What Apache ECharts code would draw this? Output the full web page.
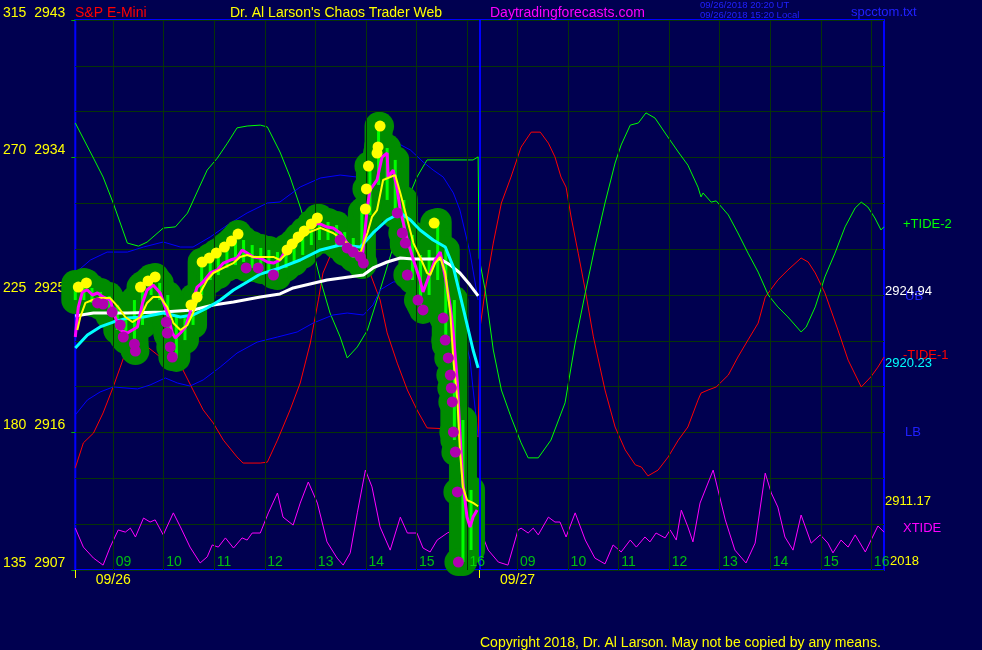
<!DOCTYPE html>
<html>
<head>
<meta charset="utf-8">
<script src="https://cdn.jsdelivr.net/npm/echarts@6.0.0/dist/echarts.min.js"></script>
<style>html,body{margin:0;padding:0;background:#000050;}#c{width:982px;height:650px;}</style>
</head>
<body>
<div id="c"></div>
<script>
// ---- axis / tick data ----
const leftTicks = [135, 180, 225, 270, 315];
const priceTicks = [2907, 2916, 2925, 2934, 2943];
const hourTicks = [9, 10, 11, 12, 13, 14, 15, 16, 17, 18, 19, 20, 21, 22, 23, 24];
const hourLabels = ['09','10','11','12','13','14','15','16','09','10','11','12','13','14','15','16'];
const dayStarts = [8.25, 16.25];
const dayLabelAt = [9, 17];
const dayLabels = ['09/26', '09/27'];

// ---- tide series (left scale) ----
const tide2 = [[8.25,281.3],[8.61,269.8],[8.80,263.6],[9.00,255.1],[9.28,242.0],[9.50,241.0],[9.67,242.3],[9.99,246.9],[10.23,247.3],[10.47,251.8],[10.66,258.7],[10.86,265.9],[11.06,269.8],[11.26,274.7],[11.45,279.7],[11.65,280.3],[11.91,280.6],[12.05,280.0],[12.30,271.8],[12.50,263.6],[12.70,253.8],[12.90,243.0],[13.10,229.9],[13.29,219.1],[13.49,211.3],[13.63,204.4],[13.83,208.0],[14.03,213.5],[14.22,223.4],[14.42,234.2],[14.62,245.3],[14.82,256.1],[15.01,263.6],[15.21,269.2],[16.12,269.2],[16.22,270.2],[16.24,237.1],[16.36,226.6],[16.52,207.0],[16.68,193.9],[16.87,185.1],[17.07,176.6],[17.21,171.7],[17.41,171.7],[17.66,177.5],[17.94,189.7],[18.14,209.3],[18.34,225.7],[18.53,240.7],[18.73,255.1],[18.93,268.2],[19.05,274.1],[19.23,280.6],[19.39,281.3],[19.54,284.6],[19.72,282.9],[19.92,278.0],[20.18,271.8],[20.37,267.5],[20.57,260.3],[20.63,257.1],[20.67,258.4],[20.83,255.4],[20.93,255.8],[21.17,251.2],[21.36,245.3],[21.56,238.7],[21.76,232.5],[21.96,225.0],[22.15,221.1],[22.35,217.8],[22.61,212.9],[22.71,214.5],[22.89,221.1],[23.08,230.9],[23.28,238.7],[23.48,247.3],[23.68,253.5],[23.80,255.4],[23.93,253.8],[24.07,250.2],[24.19,246.3],[24.25,247.3]];
const tide1 = [[8.25,168.4],[8.41,176.6],[8.61,179.8],[8.80,186.4],[9.00,194.9],[9.14,201.4],[9.28,208.0],[9.48,209.3],[9.58,209.3],[9.93,204.7],[10.33,202.1],[10.58,193.9],[10.78,187.4],[10.98,183.1],[11.18,177.5],[11.45,172.0],[11.57,170.0],[11.91,170.0],[12.05,170.3],[12.25,177.5],[12.50,187.4],[12.70,196.2],[12.90,209.3],[13.06,223.4],[13.15,232.2],[13.43,243.0],[13.65,245.6],[13.83,242.0],[14.08,232.2],[14.28,223.4],[14.42,212.6],[14.62,202.7],[14.82,193.9],[15.01,187.4],[15.21,181.5],[16.12,180.8],[16.22,178.5],[16.24,196.2],[16.26,214.5],[16.36,226.6],[16.52,242.0],[16.68,255.1],[16.87,263.6],[17.07,273.4],[17.27,278.3],[17.45,278.3],[17.61,274.7],[17.74,270.2],[17.86,263.6],[17.96,260.3],[18.06,250.5],[18.20,238.7],[18.34,226.6],[18.50,211.3],[18.73,193.9],[18.93,181.8],[19.13,174.3],[19.33,169.4],[19.45,168.7],[19.58,165.8],[19.78,167.7],[19.98,172.0],[20.18,177.5],[20.37,181.8],[20.57,190.6],[20.63,192.9],[20.77,193.9],[20.93,194.9],[21.17,198.8],[21.36,204.7],[21.56,210.3],[21.76,215.8],[21.90,224.3],[22.15,229.9],[22.35,233.2],[22.61,237.1],[22.75,235.8],[22.89,232.2],[23.08,225.7],[23.34,213.5],[23.54,203.7],[23.80,194.9],[23.99,198.2],[24.13,201.4],[24.25,204.7]];
const xtide = [[8.25,148.7],[8.41,142.5],[8.61,138.9],[8.80,136.6],[8.94,142.5],[9.10,148.1],[9.24,147.4],[9.34,148.7],[9.44,145.8],[9.60,152.0],[9.73,150.7],[9.83,151.4],[9.99,146.5],[10.19,153.7],[10.33,149.1],[10.52,142.5],[10.72,137.3],[10.86,139.3],[10.96,143.2],[11.08,142.5],[11.22,145.5],[11.38,142.2],[11.55,145.5],[11.65,144.8],[11.75,147.1],[11.91,147.1],[12.07,153.7],[12.25,160.2],[12.36,152.3],[12.56,149.7],[12.70,156.9],[12.86,163.8],[13.04,156.9],[13.23,144.2],[13.43,138.9],[13.55,136.6],[13.69,140.6],[13.83,153.7],[13.99,167.7],[14.12,162.2],[14.28,149.1],[14.48,141.5],[14.68,152.3],[14.82,147.1],[15.01,147.1],[15.13,142.2],[15.27,140.9],[15.41,144.8],[15.61,147.1],[15.96,149.7],[16.26,148.1],[16.42,141.5],[16.62,137.6],[16.81,136.6],[17.01,148.1],[17.07,148.7],[17.21,147.1],[17.31,148.7],[17.41,146.5],[17.61,152.3],[17.74,150.7],[17.84,150.7],[17.96,145.8],[18.14,153.7],[18.34,144.8],[18.53,138.9],[18.73,137.0],[18.89,143.2],[19.05,140.9],[19.23,144.8],[19.35,142.5],[19.52,145.8],[19.62,144.2],[19.74,147.1],[19.92,145.5],[20.02,148.1],[20.14,144.8],[20.24,154.6],[20.37,149.1],[20.47,144.2],[20.61,156.9],[20.87,167.7],[21.11,151.4],[21.30,141.5],[21.52,137.3],[21.70,143.8],[21.90,166.7],[22.02,160.2],[22.15,155.6],[22.29,145.8],[22.45,141.5],[22.61,153.0],[22.81,143.8],[22.99,146.5],[23.14,143.8],[23.24,140.6],[23.40,144.8],[23.54,142.5],[23.68,146.5],[23.88,140.9],[24.13,149.4],[24.25,147.4]];

// ---- price-scale series ----
const upperBand = [[8.25,2926.44],[8.55,2927.29],[8.88,2927.81],[9.28,2927.81],[9.60,2928.14],[9.99,2928.47],[10.33,2928.14],[10.58,2928.14],[10.92,2928.80],[11.26,2929.58],[11.65,2930.37],[12.05,2931.02],[12.30,2931.09],[12.70,2932.07],[13.10,2932.66],[13.49,2932.85],[13.83,2932.72],[14.08,2933.51],[14.34,2934.29],[14.62,2934.95],[14.88,2934.49],[15.13,2933.71],[15.33,2933.18],[15.53,2932.72],[15.73,2931.68],[15.86,2930.56],[16.06,2927.75],[16.22,2924.67]];
const lowerBand = [[8.25,2917.15],[8.49,2918.13],[8.74,2918.65],[9.00,2918.98],[9.48,2918.85],[9.73,2919.11],[10.03,2919.57],[10.27,2919.24],[10.52,2919.04],[10.78,2919.44],[11.12,2920.29],[11.45,2921.20],[11.85,2921.92],[12.25,2922.25],[12.64,2922.58],[12.96,2923.17],[13.35,2923.69],[13.63,2923.82],[13.95,2923.69],[14.14,2924.35],[14.28,2925.33],[14.54,2925.85],[14.94,2925.98],[15.41,2926.18],[15.61,2925.33],[15.86,2923.56],[16.06,2920.75],[16.22,2915.71]];
const slowAvg = [[8.25,2923.63],[8.61,2923.82],[9.28,2923.82],[9.99,2923.89],[10.58,2924.02],[10.98,2924.35],[11.38,2924.54],[11.91,2924.87],[12.30,2925.07],[12.56,2925.46],[13.23,2925.98],[13.95,2926.31],[14.14,2926.77],[14.42,2927.16],[14.68,2927.42],[14.94,2927.36],[15.21,2927.36],[15.47,2927.36],[15.67,2926.96],[15.86,2926.44],[16.06,2925.65],[16.22,2924.94]];
const fastAvg = [[8.25,2921.53],[8.49,2922.38],[8.74,2922.91],[9.00,2923.23],[9.28,2923.49],[9.60,2923.56],[9.99,2923.82],[10.33,2923.56],[10.58,2923.69],[10.86,2924.15],[11.12,2924.67],[11.38,2925.33],[11.65,2925.85],[11.91,2926.37],[12.30,2926.77],[12.70,2927.29],[13.10,2927.95],[13.49,2928.27],[13.89,2928.14],[14.14,2929.06],[14.42,2929.91],[14.68,2930.37],[14.88,2929.91],[15.07,2929.25],[15.33,2928.60],[15.57,2928.14],[15.73,2926.83],[15.92,2924.21],[16.12,2921.40],[16.22,2920.23]];
const priceLine = [[8.25,2922.25],[8.31,2924.21],[8.39,2925.20],[8.49,2925.33],[8.59,2925.00],[8.69,2925.13],[8.80,2924.87],[8.94,2924.67],[9.04,2923.56],[9.14,2922.71],[9.28,2922.51],[9.38,2922.71],[9.48,2922.91],[9.58,2924.48],[9.67,2925.33],[9.79,2925.65],[9.93,2925.13],[10.07,2923.82],[10.17,2922.51],[10.23,2922.19],[10.33,2922.51],[10.43,2922.91],[10.52,2923.82],[10.58,2924.67],[10.66,2925.52],[10.78,2925.85],[10.92,2926.44],[11.06,2926.64],[11.18,2927.09],[11.32,2927.29],[11.45,2927.42],[11.55,2927.95],[11.65,2927.75],[11.77,2927.49],[11.91,2927.42],[12.05,2927.16],[12.17,2927.09],[12.30,2927.29],[12.50,2928.40],[12.70,2929.06],[12.90,2929.39],[13.06,2929.71],[13.23,2929.45],[13.35,2929.39],[13.49,2929.06],[13.63,2928.40],[13.83,2927.75],[13.93,2927.49],[14.03,2930.76],[14.08,2931.87],[14.22,2932.53],[14.32,2934.03],[14.42,2934.29],[14.44,2932.72],[14.54,2933.18],[14.62,2931.87],[14.68,2930.56],[14.82,2928.60],[14.94,2927.29],[15.07,2925.98],[15.13,2925.20],[15.27,2926.44],[15.37,2927.29],[15.47,2927.81],[15.57,2926.18],[15.67,2924.21],[15.73,2922.51],[15.81,2919.24],[15.86,2915.97],[15.92,2912.69],[16.00,2910.47],[16.06,2909.81],[16.12,2910.47],[16.20,2910.93]];
const smoothLine = [[8.29,2922.71],[8.35,2923.56],[8.45,2924.48],[8.59,2924.67],[8.74,2924.80],[8.94,2924.80],[9.10,2924.21],[9.24,2923.56],[9.38,2923.23],[9.54,2923.56],[9.67,2924.48],[9.79,2924.87],[9.93,2924.87],[10.07,2924.21],[10.19,2923.17],[10.33,2922.71],[10.47,2923.04],[10.58,2923.82],[10.72,2925.13],[10.86,2925.98],[10.98,2926.44],[11.18,2926.77],[11.38,2927.09],[11.51,2927.49],[11.65,2927.62],[11.77,2927.49],[11.97,2927.49],[12.17,2927.49],[12.30,2927.29],[12.56,2928.14],[12.84,2929.06],[13.10,2929.39],[13.35,2929.06],[13.63,2928.40],[13.89,2927.75],[14.03,2929.06],[14.12,2930.11],[14.22,2930.56],[14.34,2932.53],[14.48,2932.72],[14.58,2932.85],[14.68,2931.68],[14.82,2929.91],[14.94,2928.40],[15.07,2927.49],[15.21,2926.44],[15.27,2926.31],[15.37,2927.09],[15.47,2927.49],[15.57,2926.44],[15.67,2923.82],[15.73,2920.75],[15.81,2918.13],[15.86,2914.85],[15.92,2912.43],[16.00,2911.58],[16.12,2911.39],[16.22,2911.17]];
const barTimes = [8.25,8.42,8.58,8.75,8.92,9.08,9.25,9.42,9.58,9.75,9.92,10.08,10.25,10.42,10.58,10.75,10.92,11.08,11.25,11.42,11.58,11.75,11.92,12.08,12.25,12.42,12.58,12.75,12.92,13.08,13.25,13.42,13.58,13.75,13.92,14.08,14.25,14.42,14.58,14.75,14.92,15.08,15.25,15.42,15.58,15.75,15.92,16.08];
const barHigh = [2925.72,2925.85,2925.46,2925.20,2924.93,2924.35,2923.49,2924.67,2925.65,2926.11,2925.79,2925.00,2923.69,2923.49,2924.80,2927.16,2927.49,2927.81,2928.27,2928.80,2928.60,2928.27,2928.08,2927.95,2927.81,2928.08,2928.47,2928.99,2929.65,2930.04,2929.78,2929.58,2929.12,2928.73,2930.43,2933.51,2936.06,2934.62,2933.84,2931.22,2928.93,2927.62,2927.95,2929.78,2927.95,2924.67,2916.82,2912.24];
const barLow = [2924.67,2924.67,2924.48,2924.28,2923.69,2922.71,2922.05,2921.40,2923.04,2925.00,2924.67,2922.38,2920.88,2922.05,2923.04,2925.00,2925.98,2926.31,2926.77,2926.96,2927.16,2926.77,2926.64,2926.51,2926.24,2926.77,2927.16,2927.62,2928.27,2928.60,2928.60,2928.27,2927.81,2927.42,2926.96,2930.24,2932.20,2931.22,2930.24,2928.27,2925.98,2924.35,2925.00,2925.98,2921.73,2915.51,2907.52,2908.31];
const highDots = [[8.31,2925.52],[8.47,2925.79],[9.54,2925.52],[9.69,2925.92],[9.83,2926.18],[10.54,2924.35],[10.66,2924.87],[10.76,2927.16],[10.90,2927.42],[11.04,2927.75],[11.20,2928.14],[11.34,2928.53],[11.47,2928.99],[12.44,2927.95],[12.54,2928.34],[12.66,2928.80],[12.78,2929.19],[12.92,2929.65],[13.04,2930.04],[13.99,2930.63],[14.01,2931.94],[14.05,2933.44],[14.22,2934.29],[14.24,2934.69],[14.28,2936.06],[15.35,2929.71]];
const lowDots = [[8.69,2924.48],[8.80,2924.41],[8.98,2923.89],[9.14,2923.04],[9.20,2922.25],[9.42,2921.79],[9.44,2921.33],[10.05,2923.23],[10.07,2922.51],[10.13,2921.60],[10.17,2920.94],[11.63,2926.77],[11.87,2926.77],[12.17,2926.31],[13.49,2928.60],[13.63,2928.08],[13.75,2927.81],[13.89,2927.49],[13.95,2927.09],[14.62,2930.37],[14.72,2929.06],[14.78,2928.40],[14.82,2926.31],[15.03,2924.67],[15.13,2924.02],[15.53,2923.49],[15.57,2922.05],[15.63,2920.88],[15.67,2919.76],[15.69,2918.91],[15.71,2918.00],[15.73,2916.03],[15.77,2914.72],[15.81,2912.11],[15.83,2907.52]];

const FONT = '"Liberation Sans", Arial, sans-serif';
const GRID = '#073307';
const HALO = '#008c00';
const bars = barTimes.map((t, i) => [t, barHigh[i], barLow[i]]);

function lineSeries(name, data, color, width, yIdx, z) {
  return { name, type: 'line', data, yAxisIndex: yIdx, showSymbol: false, symbol: 'none',
    lineStyle: { color, width }, z, animation: false, silent: true };
}

const chart = echarts.init(document.getElementById('c'), null, { renderer: 'canvas' });
const option = {
  backgroundColor: '#000050',
  animation: false,
  grid: { left: 75, right: 98, top: 20, bottom: 80, show: true, borderColor: '#0000ff', borderWidth: 2, backgroundColor: 'transparent' },
  xAxis: {
    type: 'value', min: 8.25, max: 24.25,
    axisLine: { show: false }, splitLine: { show: false },
    axisTick: { show: true, customValues: dayStarts, length: 8, lineStyle: { color: '#ffff00' } },
    axisLabel: { show: true, customValues: dayLabelAt, margin: 3, color: '#ffff00', fontSize: 14, fontFamily: FONT,
      formatter: v => dayLabels[dayLabelAt.indexOf(v)] || '' }
  },
  yAxis: [
    { type: 'value', min: 135, max: 315, interval: 45, position: 'left',
      axisLine: { show: false },
      axisTick: { show: true, length: 4, lineStyle: { color: '#00b000' } },
      axisLabel: { color: '#ffff00', fontSize: 14, fontFamily: FONT, margin: 10, verticalAlign: 'bottom',
        formatter: v => { const i = leftTicks.indexOf(v); return i < 0 ? '' : v + '  ' + priceTicks[i]; } },
      splitLine: { show: true, lineStyle: { color: GRID, width: 1 } },
      minorTick: { show: false, splitNumber: 3 },
      minorSplitLine: { show: true, lineStyle: { color: GRID, width: 1 } } },
    { type: 'value', min: 2907, max: 2943, show: false, splitLine: { show: false } }
  ],
  series: [
    { type: 'line', data: [], z: 1, silent: true, animation: false,
      markLine: { silent: true, symbol: 'none', label: { show: false }, animation: false,
        data: hourTicks.map(v => ({ xAxis: v, lineStyle: { color: GRID, width: 1, type: 'solid' } }))
          .concat([{ xAxis: dayStarts[1], lineStyle: { color: '#0000ff', width: 2, type: 'solid' } }]) } },
    lineSeries('TIDE-1', tide1, '#ff0000', 1, 0, 2),
    lineSeries('TIDE-2', tide2, '#00ff00', 1, 0, 2),
    lineSeries('XTIDE', xtide, '#ff00ff', 1, 0, 2),
    lineSeries('UB', upperBand, '#0000ff', 1, 1, 2),
    lineSeries('LB', lowerBand, '#0000ff', 1, 1, 2),
    { type: 'custom', yAxisIndex: 1, data: bars, z: 3, silent: true, animation: false, clip: false,
      encode: { x: 0, y: [1, 2] },
      renderItem: (params, api) => {
        const t = api.coord([api.value(0), api.value(1)]);
        const b = api.coord([api.value(0), api.value(2)]);
        const r = 14;
        return { type: 'rect', shape: { x: t[0] - r, y: t[1] - r, width: 2 * r, height: b[1] - t[1] + 2 * r, r: r },
          style: { fill: HALO } };
      } },
    { type: 'scatter', yAxisIndex: 1, data: highDots.concat(lowDots), symbolSize: 28, z: 3, silent: true,
      itemStyle: { color: HALO, opacity: 1 }, animation: false },
    { type: 'custom', yAxisIndex: 1, data: bars, z: 4, silent: true, animation: false,
      encode: { x: 0, y: [1, 2] },
      renderItem: (params, api) => {
        const t = api.coord([api.value(0), api.value(1)]);
        const b = api.coord([api.value(0), api.value(2)]);
        return { type: 'line', shape: { x1: t[0], y1: t[1], x2: b[0], y2: b[1] },
          style: { stroke: '#00ff00', lineWidth: 3 } };
      } },
    lineSeries('slow', slowAvg, '#ffffff', 3, 1, 5),
    lineSeries('fast', fastAvg, '#00ffff', 3, 1, 5),
    lineSeries('price', priceLine, '#ff00ff', 3, 1, 6),
    lineSeries('smooth', smoothLine, '#ffff00', 2, 1, 7),
    { type: 'scatter', yAxisIndex: 1, data: lowDots, symbolSize: 11, z: 8, silent: true,
      itemStyle: { color: '#b000b0', opacity: 1 }, animation: false },
    { type: 'scatter', yAxisIndex: 1, data: highDots, symbolSize: 11, z: 8, silent: true,
      itemStyle: { color: '#ffff00', opacity: 1 }, animation: false },
    { type: 'scatter', yAxisIndex: 0, data: hourTicks.map(h => [h, leftTicks[0]]), symbolSize: 1, z: 9, silent: true,
      itemStyle: { color: 'rgba(0,0,0,0)' }, animation: false,
      label: { show: true, position: [3, -14], color: '#00ee00', fontSize: 14, fontFamily: FONT,
        formatter: p => hourLabels[p.dataIndex] } }
  ],
  graphic: [
    { type: 'text', x: 75, y: 13, style: { text: 'S&P E-Mini', fill: '#ff0000', font: '14px ' + FONT, verticalAlign: 'middle', textVerticalAlign: 'middle' } },
    { type: 'text', x: 230, y: 13, style: { text: "Dr. Al Larson's Chaos Trader Web", fill: '#ffff00', font: '14px ' + FONT, verticalAlign: 'middle', textVerticalAlign: 'middle' } },
    { type: 'text', x: 490, y: 13, style: { text: 'Daytradingforecasts.com', fill: '#ff00ff', font: '14px ' + FONT, verticalAlign: 'middle', textVerticalAlign: 'middle' } },
    { type: 'text', x: 700, y: 5, style: { text: '09/26/2018 20:20 UT', fill: '#2020ff', font: '9.5px ' + FONT, verticalAlign: 'middle', textVerticalAlign: 'middle' } },
    { type: 'text', x: 700, y: 15, style: { text: '09/26/2018 15:20 Local', fill: '#2020ff', font: '9.5px ' + FONT, verticalAlign: 'middle', textVerticalAlign: 'middle' } },
    { type: 'text', x: 851, y: 12, style: { text: 'spcctom.txt', fill: '#2020ff', font: '13px ' + FONT, verticalAlign: 'middle', textVerticalAlign: 'middle' } },
    { type: 'text', x: 903, y: 224, style: { text: '+TIDE-2', fill: '#00ff00', font: '13px ' + FONT, verticalAlign: 'middle', textVerticalAlign: 'middle' } },
    { type: 'text', x: 905, y: 296, style: { text: 'UB', fill: '#2020ff', font: '13px ' + FONT, verticalAlign: 'middle', textVerticalAlign: 'middle' } },
    { type: 'text', x: 885, y: 291, style: { text: '2924.94', fill: '#ffffff', font: '13px ' + FONT, verticalAlign: 'middle', textVerticalAlign: 'middle' } },
    { type: 'text', x: 903, y: 355, style: { text: '-TIDE-1', fill: '#ff0000', font: '13px ' + FONT, verticalAlign: 'middle', textVerticalAlign: 'middle' } },
    { type: 'text', x: 885, y: 363, style: { text: '2920.23', fill: '#00ffff', font: '13px ' + FONT, verticalAlign: 'middle', textVerticalAlign: 'middle' } },
    { type: 'text', x: 905, y: 432, style: { text: 'LB', fill: '#2020ff', font: '13px ' + FONT, verticalAlign: 'middle', textVerticalAlign: 'middle' } },
    { type: 'text', x: 885, y: 501, style: { text: '2911.17', fill: '#ffff00', font: '13px ' + FONT, verticalAlign: 'middle', textVerticalAlign: 'middle' } },
    { type: 'text', x: 903, y: 528, style: { text: 'XTIDE', fill: '#ff00ff', font: '13px ' + FONT, verticalAlign: 'middle', textVerticalAlign: 'middle' } },
    { type: 'text', x: 890, y: 561, style: { text: '2018', fill: '#ffff00', font: '13px ' + FONT, verticalAlign: 'middle', textVerticalAlign: 'middle' } },
    { type: 'text', x: 480, y: 643, style: { text: 'Copyright 2018, Dr. Al Larson. May not be copied by any means.', fill: '#ffff00', font: '14px ' + FONT, verticalAlign: 'middle', textVerticalAlign: 'middle' } }
  ]
};
chart.setOption(option);
</script>
</body>
</html>
